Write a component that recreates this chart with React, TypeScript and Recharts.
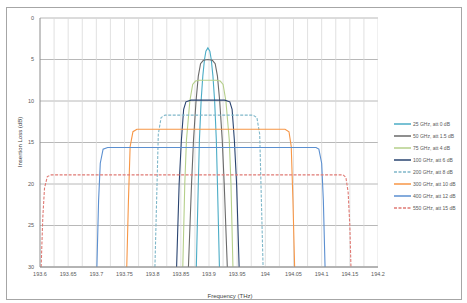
import { LineChart, Line, XAxis, YAxis, CartesianGrid, ReferenceLine } from "recharts";

const FONT = "'Liberation Sans', Arial, sans-serif";
const TEXT_COLOR = "#595959";

// x axis: frequency (THz)
const xTicks = [193.6, 193.65, 193.7, 193.75, 193.8, 193.85, 193.9, 193.95, 194, 194.05, 194.1, 194.15, 194.2];
const xMinorTicks = [
  193.625, 193.65, 193.675, 193.7, 193.725, 193.75, 193.775, 193.8, 193.825, 193.85, 193.875, 193.9,
  193.925, 193.95, 193.975, 194, 194.025, 194.05, 194.075, 194.1, 194.125, 194.15, 194.175, 194.2,
];
// y axis: insertion loss (dB), reversed
const yTicks = [0, 5, 10, 15, 20, 25, 30];

const seriesNames = [
  "25 GHz, att 0 dB",
  "50 GHz, att 1.5 dB",
  "75 GHz, att 4 dB",
  "100 GHz, att 6 dB",
  "200 GHz, att 8 dB",
  "300 GHz, att 10 dB",
  "400 GHz, att 12 dB",
  "550 GHz, att 15 dB",
];
const seriesColors = ["#4bacc6", "#6a6a6a", "#b5cf8a", "#2a4470", "#7fb7c9", "#f79646", "#5b8fd0", "#e07a74"];
const seriesDash = ["", "", "", "", "3 1.5", "", "", "3 1.5"];

// [frequency THz, loss dB]
const s1: [number, number][] = [
  [193.8775, 30], [193.881, 20], [193.883, 14.7], [193.886, 10], [193.889, 7], [193.892, 5], [193.8945, 4],
  [193.898, 3.6], [193.9015, 4], [193.904, 5], [193.907, 7], [193.91, 10], [193.913, 14.7], [193.915, 20], [193.9185, 30],
];
const s2: [number, number][] = [
  [193.8635, 30], [193.869, 20], [193.8725, 14.7], [193.877, 10], [193.881, 7], [193.885, 5.5], [193.89, 5.1],
  [193.898, 5.0], [193.906, 5.1], [193.911, 5.5], [193.915, 7], [193.919, 10], [193.9235, 14.7], [193.927, 20], [193.9325, 30],
];
const s3: [number, number][] = [
  [193.8535, 30], [193.857, 20], [193.86, 14.7], [193.866, 10], [193.871, 8], [193.876, 7.6], [193.883, 7.5],
  [193.898, 7.5], [193.913, 7.5], [193.92, 7.6], [193.925, 8], [193.93, 10], [193.936, 14.7], [193.939, 20], [193.9425, 30],
];
const s4: [number, number][] = [
  [193.8425, 30], [193.847, 20], [193.851, 14.7], [193.855, 11], [193.859, 10.1], [193.868, 9.9],
  [193.898, 9.9], [193.928, 9.9], [193.937, 10.1], [193.941, 11], [193.945, 14.7], [193.949, 20], [193.9535, 30],
];
const s5: [number, number][] = [
  [193.804, 30], [193.807, 22], [193.81, 14], [193.815, 12], [193.822, 11.7],
  [193.978, 11.7], [193.985, 12], [193.99, 14], [193.993, 22], [193.996, 30],
];
const s6: [number, number][] = [
  [193.754, 30], [193.757, 22], [193.76, 15.5], [193.765, 13.7], [193.772, 13.4],
  [194.035, 13.4], [194.042, 13.7], [194.046, 15.5], [194.049, 22], [194.052, 30],
];
const s7: [number, number][] = [
  [193.701, 30], [193.704, 22], [193.707, 17.5], [193.712, 15.8], [193.72, 15.6],
  [194.09, 15.6], [194.095, 15.8], [194.1, 17.5], [194.103, 22], [194.106, 30],
];
const s8: [number, number][] = [
  [193.602, 30], [193.605, 24], [193.608, 20.5], [193.613, 19.1], [193.62, 18.9],
  [194.138, 18.9], [194.143, 19.2], [194.147, 21], [194.15, 25], [194.152, 30],
];

const allSeries = [s1, s2, s3, s4, s5, s6, s7, s8].map((pts) => pts.map(([f, loss]) => ({ f, loss })));

export default function App() {
  return (
    <div style={{ position: "absolute", left: 0, top: 0, width: 467, height: 303, background: "#fff", fontFamily: FONT }}>
      <div
        style={{
          position: "absolute",
          left: 6,
          top: 7,
          width: 456,
          height: 293,
          border: "1px solid #a6a6a6",
          boxSizing: "border-box",
        }}
      />
      <div style={{ position: "absolute", left: 0, top: 0 }}>
        <LineChart width={467} height={303} margin={{ top: 18, right: 89, bottom: 16, left: 0 }}>
          {xMinorTicks.map((v) => (
            <ReferenceLine key={v} x={v} stroke="#d9d9d9" strokeWidth={0.8} ifOverflow="hidden" />
          ))}
          <CartesianGrid vertical={false} stroke="#a6a6a6" strokeWidth={0.8} />
          <XAxis
            type="number"
            dataKey="f"
            domain={[193.6, 194.2]}
            ticks={xTicks}
            allowDataOverflow
            height={20}
            tickSize={3}
            tickMargin={2}
            tickLine={false}
            axisLine={{ stroke: "#8c8c8c" }}
            tick={{ fontSize: 5.5, fill: TEXT_COLOR, fontFamily: FONT }}
            tickFormatter={(v) => String(v)}
          />
          <YAxis
            type="number"
            reversed
            domain={[0, 30]}
            ticks={yTicks}
            allowDataOverflow
            width={40}
            tickSize={4}
            tickMargin={2}
            tickLine={false}
            axisLine={{ stroke: "#8c8c8c" }}
            tick={{ fontSize: 5.5, fill: TEXT_COLOR, fontFamily: FONT }}
          />
          {allSeries.map((data, i) => (
            <Line
              key={seriesNames[i]}
              name={seriesNames[i]}
              data={data}
              dataKey="loss"
              type="linear"
              stroke={seriesColors[i]}
              strokeWidth={1.1}
              strokeDasharray={seriesDash[i] || undefined}
              dot={false}
              isAnimationActive={false}
            />
          ))}
        </LineChart>
      </div>
      <div
        style={{
          position: "absolute",
          left: 20,
          top: 142,
          transform: "translate(-50%, -50%) rotate(-90deg)",
          fontSize: 6,
          color: "#404040",
          whiteSpace: "nowrap",
        }}
      >
        Insertion Loss (dB)
      </div>
      <div
        style={{
          position: "absolute",
          left: 230,
          top: 296,
          transform: "translate(-50%, -50%)",
          fontSize: 6,
          color: "#404040",
          whiteSpace: "nowrap",
        }}
      >
        Frequency (THz)
      </div>
      <div style={{ position: "absolute", left: 394, top: 118 }}>
        {seriesNames.map((name, i) => (
          <div key={name} style={{ display: "flex", alignItems: "center", height: 12 }}>
            <svg width={17} height={4} style={{ marginRight: 2 }}>
              <line
                x1={0}
                y1={2}
                x2={17}
                y2={2}
                stroke={seriesColors[i]}
                strokeWidth={1.5}
                strokeDasharray={seriesDash[i] || undefined}
              />
            </svg>
            <span style={{ fontSize: 5, color: TEXT_COLOR, whiteSpace: "nowrap" }}>{name}</span>
          </div>
        ))}
      </div>
    </div>
  );
}
